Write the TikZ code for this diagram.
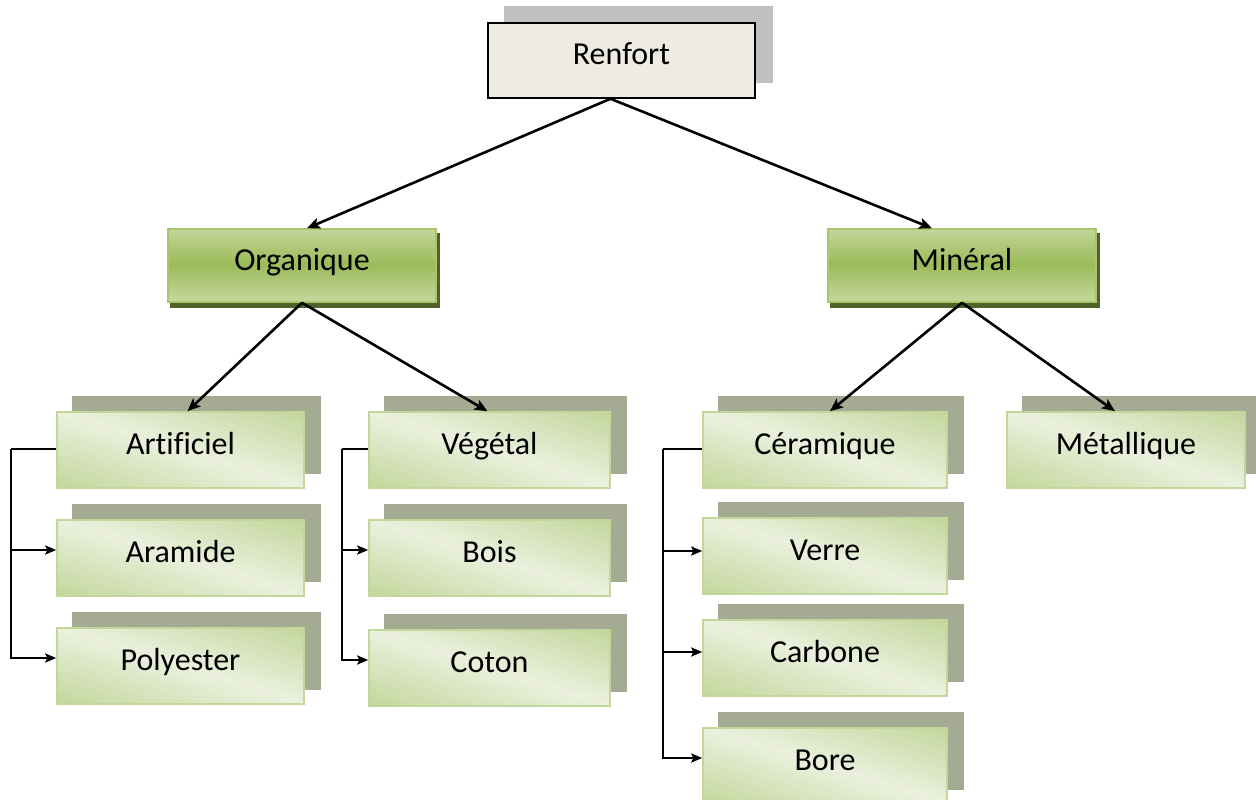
\documentclass[tikz,border=0pt]{standalone}
\usepackage{fontspec}
\setmainfont[Ligatures={NoCommon}]{Carlito}
\usetikzlibrary{arrows.meta,backgrounds}
\definecolor{rfill}{HTML}{EEECE1}
\definecolor{rshadow}{HTML}{C0C0C0}
\definecolor{glight}{HTML}{C4D79C}
\definecolor{gmid}{HTML}{9BBB59}
\definecolor{gdark}{HTML}{4F6228}
\definecolor{gborder}{HTML}{A9C66C}
\definecolor{lpale}{HTML}{EBF1DE}
\definecolor{ldark}{HTML}{C3D69B}
\definecolor{lborder}{HTML}{C3D69B}
\definecolor{lshadow}{HTML}{A5AB92}
% diagonal gradient inside a leaf box: #1 node name, #2 width, #3 height
\newcommand\leafgrad[3]{%
  \begin{scope}
    \clip (#1.south west) rectangle (#1.north east);
    \begin{scope}[shift={(#1.north west)}, x={(#2pt,0pt)}, y={(0pt,-#3pt)}]
      \foreach \i in {0,...,39}{
        \pgfmathsetmacro\k{-1+\i/20}
        \pgfmathsetmacro\kk{\k+0.053}
        \pgfmathsetmacro\p{100*abs(\k+0.025)}
        \fill[ldark!\p!lpale] (\k,0) -- (\kk,0) -- (\kk+1,1) -- (\k+1,1) -- cycle;
      }
    \end{scope}
  \end{scope}}
% vertical gradient inside a mid box: #1 node name, #2 width, #3 height
\newcommand\midgrad[3]{%
  \begin{scope}
    \clip (#1.south west) rectangle (#1.north east);
    \begin{scope}[shift={(#1.north west)}, x={(#2pt,0pt)}, y={(0pt,-#3pt)}]
      \foreach \i in {0,...,29}{
        \pgfmathsetmacro\t{\i/30}
        \pgfmathsetmacro\tt{\t+0.036}
        \pgfmathsetmacro\p{100*abs(1-2*(\t+1/60))}
        \fill[glight!\p!gmid] (0,\t) rectangle (1,\tt);
      }
    \end{scope}
  \end{scope}}
\begin{document}
\begin{tikzpicture}[x=1pt,y=-1pt,
  txt/.style={font=\fontsize{32}{38}\selectfont, inner sep=0pt, align=center,
    text height=24pt, text depth=15pt},
  rootbox/.style={txt, draw=black, line width=1.5pt, fill=rfill,
    minimum width=267pt, minimum height=75pt},
  midbox/.style={txt, draw=gborder, line width=1.5pt,
    minimum width=268pt, minimum height=73pt},
  leafbox/.style={txt, draw=lborder, line width=1.5pt,
    minimum height=76pt},
  conn/.style={line width=2.6pt, -{Stealth[length=13pt,width=11pt,inset=3pt]}},
  elbline/.style={line width=2.3pt},
  elb/.style={elbline, -{Stealth[length=11pt,width=9pt,inset=2pt]}}
]
\useasboundingbox (0,0) rectangle (1256,800);
\clip (0,0) rectangle (1256,800);

\node[rootbox] (renfort) at (621.5,60.5) {Renfort};
\node[midbox] (organique) at (302,265.5) {Organique};
\node[midbox] (mineral) at (962,265.5) {Minéral};

\node[leafbox, minimum width=247pt] (artificiel) at (180.5,450) {Artificiel};
\node[leafbox, minimum width=247pt] (aramide) at (180.5,558) {Aramide};
\node[leafbox, minimum width=247pt] (polyester) at (180.5,666) {Polyester};

\node[leafbox, minimum width=241pt] (vegetal) at (489.5,450) {Végétal};
\node[leafbox, minimum width=241pt] (bois) at (489.5,558) {Bois};
\node[leafbox, minimum width=241pt] (coton) at (489.5,668) {Coton};

\node[leafbox, minimum width=244pt] (ceramique) at (825,450) {Céramique};
\node[leafbox, minimum width=244pt] (verre) at (825,556) {Verre};
\node[leafbox, minimum width=244pt] (carbone) at (825,658) {Carbone};
\node[leafbox, minimum width=244pt] (bore) at (825,766) {Bore};

\node[leafbox, minimum width=238pt] (metallique) at (1126,450) {Métallique};

% shadows and fills
\begin{scope}[on background layer]
  \fill[rshadow] ([shift={(17pt,16pt)}]renfort.south west) rectangle ([shift={(17pt,16pt)}]renfort.north east);
  \foreach \n in {organique,mineral}
    \fill[gdark] ([shift={(3pt,-5pt)}]\n.south west) rectangle ([shift={(3pt,-5pt)}]\n.north east);
  \foreach \n in {artificiel,aramide,polyester,vegetal,bois,coton,ceramique,verre,carbone,bore,metallique}
    \fill[lshadow] ([shift={(16pt,15pt)}]\n.south west) rectangle ([shift={(16pt,15pt)}]\n.north east);
  \midgrad{organique}{268}{73}
  \midgrad{mineral}{268}{73}
  \foreach \n in {artificiel,aramide,polyester}{\leafgrad{\n}{247}{76}}
  \foreach \n in {vegetal,bois,coton}{\leafgrad{\n}{241}{76}}
  \foreach \n in {ceramique,verre,carbone,bore}{\leafgrad{\n}{244}{76}}
  \leafgrad{metallique}{238}{76}
\end{scope}

% tree connectors
\coordinate (rout) at ([xshift=-11pt]renfort.south);
\draw[conn] (rout) -- ([xshift=5pt]organique.north);
\draw[conn] (rout) -- ([xshift=-30pt]mineral.north);
\draw[conn] (organique.south) -- ([xshift=7pt]artificiel.north);
\draw[conn] (organique.south) -- ([xshift=-2pt]vegetal.north);
\draw[conn] (mineral.south) -- ([xshift=5pt]ceramique.north);
\draw[conn] (mineral.south) -- ([xshift=-11pt]metallique.north);

% entry points on the west sides
\coordinate (aramideIn) at ([yshift=8pt]aramide.west);
\coordinate (polyIn) at ([yshift=8pt]polyester.west);
\coordinate (boisIn) at ([yshift=8pt]bois.west);
\coordinate (cotonIn) at ([yshift=8pt]coton.west);
\coordinate (verreIn) at ([yshift=5pt]verre.west);
\coordinate (carboneIn) at ([yshift=6pt]carbone.west);
\coordinate (boreIn) at ([yshift=8pt]bore.west);

% elbow connectors
\draw[elbline] ([yshift=1pt]artificiel.west) -- ++(-45,0) coordinate (ea);
\draw[elb] (ea) |- (polyIn);
\draw[elb] (ea |- aramideIn) -- (aramideIn);

\draw[elbline] ([yshift=1pt]vegetal.west) -- ++(-26,0) coordinate (ev);
\draw[elb] (ev) |- (cotonIn);
\draw[elb] (ev |- boisIn) -- (boisIn);

\draw[elbline] ([yshift=1pt]ceramique.west) -- ++(-39,0) coordinate (ec);
\draw[elb] (ec) |- (boreIn);
\draw[elb] (ec |- verreIn) -- (verreIn);
\draw[elb] (ec |- carboneIn) -- (carboneIn);
\end{tikzpicture}
\end{document}
